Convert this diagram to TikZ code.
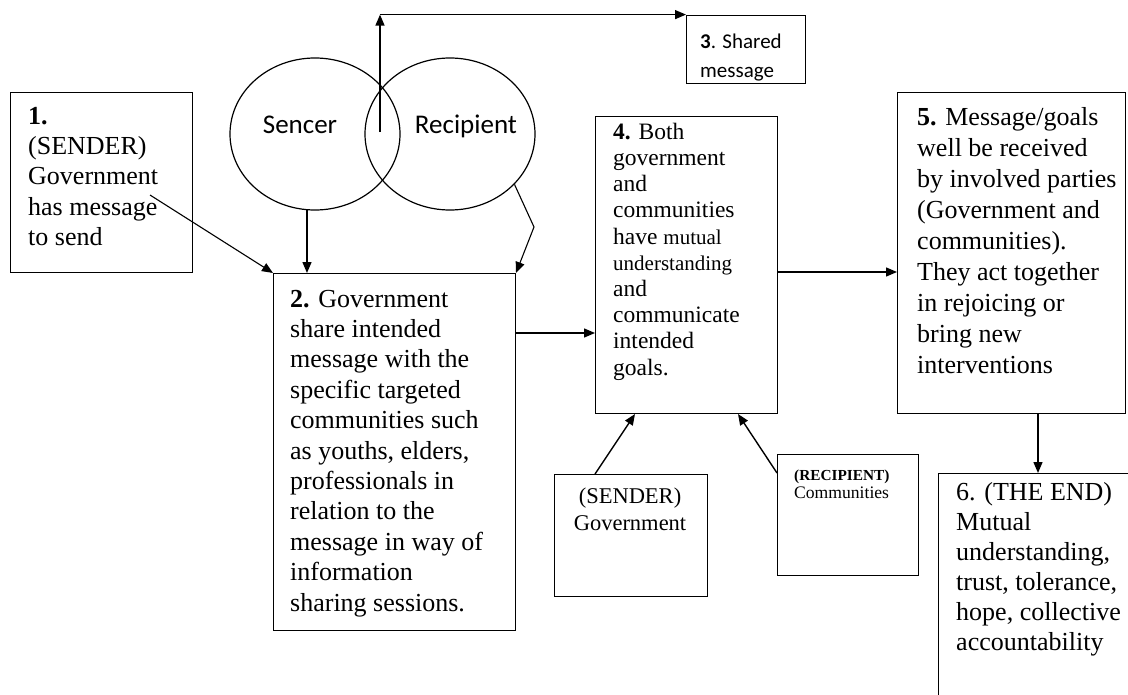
\documentclass[tikz,border=0pt]{standalone}
\usepackage{fontspec}
\setmainfont{Liberation Serif}
\newfontfamily\vennfont{Carlito}
\usetikzlibrary{arrows.meta,shapes.geometric}

\begin{document}
\begin{tikzpicture}[x=1pt,y=-1pt]
\tikzstyle{every node}+=[inner sep=0pt]
\tikzstyle{box}=[draw,line width=1pt,anchor=north west]
\tikzstyle{txt}=[anchor=north west,align=left,font=\fontsize{26}{30.4}\selectfont]
\tikzstyle{arr}=[line width=1.4pt,-{Triangle[length=11pt,width=9pt]}]
\tikzstyle{venn}=[draw,ellipse,line width=1.2pt,minimum width=170pt,minimum height=152pt]
\tikzstyle{vlabel}=[anchor=base,font=\vennfont\fontsize{27}{30}\selectfont]
\useasboundingbox (0,0) rectangle (1128,694);
\clip (0,0) rectangle (1128,694);

% the two circles
\node[venn] (sender) at (315,134) {};
\node[venn] (recip) at (450,134) {};
\node[vlabel] (lsend) at (300,133) {Sencer};
\node[vlabel] (lrecip) at (466,133) {Recipient};

% boxes
\node[box,minimum width=182pt,minimum height=180pt] (b1) at (10,92) {};
\node[box,minimum width=242pt,minimum height=357pt] (b2) at (273,273) {};
\node[box,minimum width=119pt,minimum height=68pt] (b3) at (686,15) {};
\node[box,minimum width=182pt,minimum height=297pt] (b4) at (595,116) {};
\node[box,minimum width=228pt,minimum height=321pt] (b5) at (897,92) {};
\node[box,minimum width=200pt,minimum height=240pt] (b6) at (938,473) {};
\node[box,minimum width=153pt,minimum height=122pt] (sb) at (554,474) {};
\node[box,minimum width=141pt,minimum height=121pt] (rb) at (777,454) {};

% texts
\node[txt] (t1) at (28,102.7) {\strut\textbf{1.}\\(SENDER)\\Government\\has message\\to send};
\node[txt] (t2) at (290,285.7) {\strut\textbf{2.} Government\\share intended\\message with the\\specific targeted\\communities such\\as youths, elders,\\professionals in\\relation to the\\message in way of\\information\\sharing sessions.};
\node[txt,font=\vennfont\fontsize{21}{29}\selectfont] (t3) at (700,27.7) {\strut\textbf{3}. Shared\\message};
\node[txt,font=\fontsize{23.5}{26.2}\selectfont] (t4) at (613,120.7) {\strut\textbf{4.} Both\\government\\and\\communities\\have {\fontsize{21}{26.2}\selectfont mutual}\\{\fontsize{21}{26.2}\selectfont understanding}\\and\\communicate\\intended\\goals.};
\node[txt,font=\fontsize{26}{31}\selectfont] (t5) at (917,103.3) {\strut\textbf{5.} Message/goals\\well be received\\by involved parties\\(Government and\\communities).\\They act together\\in rejoicing or\\bring new\\interventions};
\node[txt,font=\fontsize{26}{30}\selectfont] (t6) at (956,479) {\strut 6. (THE END)\\Mutual\\understanding,\\trust, tolerance,\\hope, collective\\accountability};
\node[anchor=north,align=center,font=\fontsize{22.5}{27}\selectfont] (tsb) at (630,484) {\strut(SENDER)\\Government};
\node[txt,font=\fontsize{17.6}{18}\selectfont] (trb) at (794,467.4) {\strut{\fontsize{15.3}{18}\selectfont\bfseries (RECIPIENT)}\\Communities};

% connectors
\coordinate (p1) at (150,195);
\draw[arr,line width=1.1pt] (p1) -- (b2.north west);
\draw[arr] (sender.-96) -- (sender.-96 |- b2.north);
\coordinate (kink) at (534,227);
\draw[arr,line width=1.1pt] (recip.-38) -- (kink) -- (b2.north east);
\coordinate (vbot) at (380,132);
\coordinate (vtop) at (380,14.6);
\draw[arr] (vbot) -- (vtop);
\draw[arr] (vtop) -- (vtop -| b3.west);
\coordinate (y24) at (0,333);
\draw[arr] (b2.east |- y24) -- (b4.west |- y24);
\coordinate (y45) at (0,272);
\draw[arr] (b4.east |- y45) -- (b5.west |- y45);
\coordinate (x56) at (1038,0);
\draw[arr] (b5.south -| x56) -- (b6.north -| x56);
\coordinate (xs) at (595,0);
\coordinate (xs4) at (635,0);
\draw[arr] (sb.north -| xs) -- (b4.south -| xs4);
\coordinate (yr) at (0,473);
\coordinate (xr4) at (738,0);
\draw[arr] (rb.west |- yr) -- (b4.south -| xr4);
\end{tikzpicture}
\end{document}
